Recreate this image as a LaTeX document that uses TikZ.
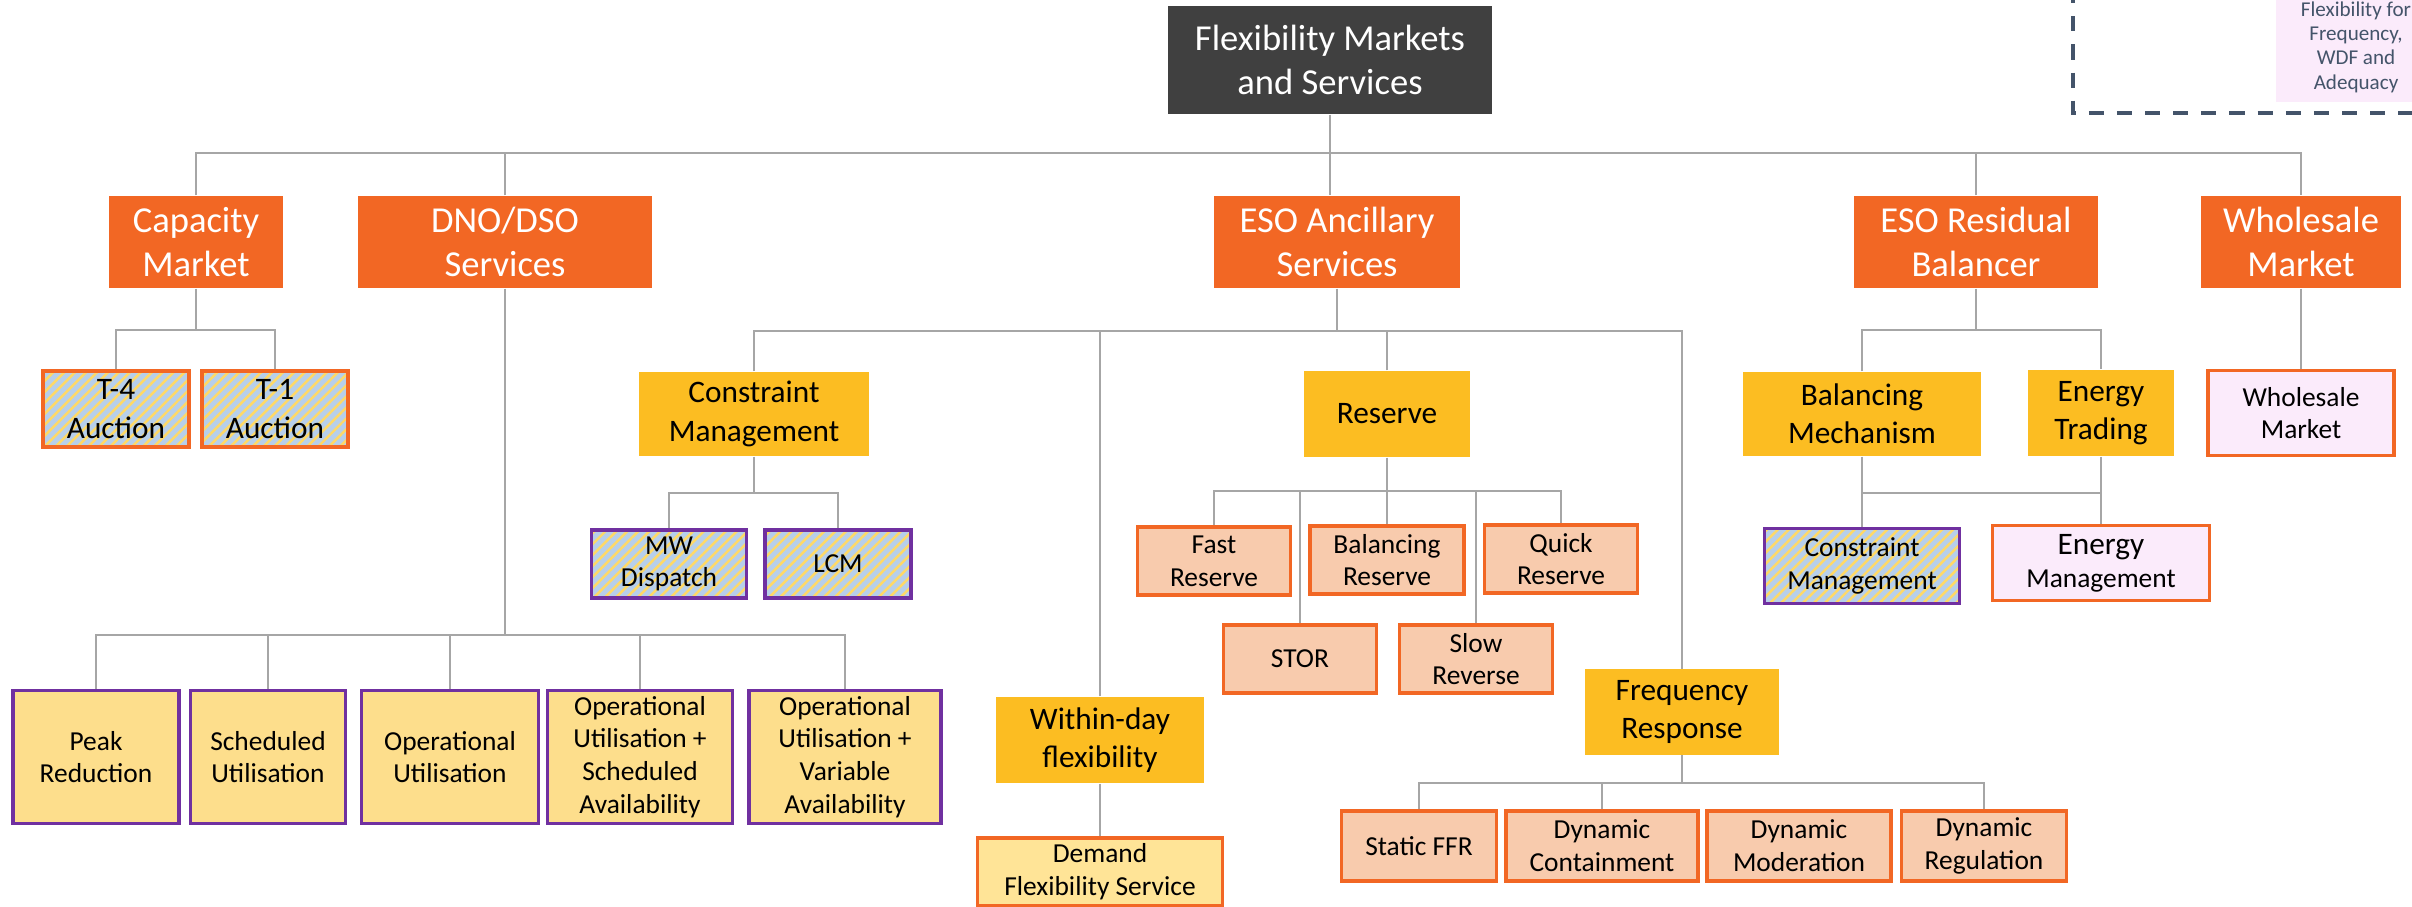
\documentclass[tikz,border=0pt]{standalone}
\usepackage{fontspec}
\setmainfont{Carlito}
\usetikzlibrary{patterns.meta}

\definecolor{rootgray}{HTML}{404040}
\definecolor{mktorange}{HTML}{F26724}
\definecolor{svcyellow}{HTML}{FCBD22}
\definecolor{paleyellow}{HTML}{FDDE8C}
\definecolor{lightyellow}{HTML}{FFE497}
\definecolor{salmon}{HTML}{F8CBAD}
\definecolor{palepink}{HTML}{FBEBFB}
\definecolor{hatchblue}{HTML}{B7CFEA}
\definecolor{hatchyellow}{HTML}{FFD966}
\definecolor{svcpurple}{HTML}{7030A0}
\definecolor{linegray}{HTML}{A6A6A6}
\definecolor{slate}{HTML}{44546A}

\newcommand{\sizeTop}{\fontsize{10.4pt}{12.6pt}\selectfont}
\newcommand{\sizeMid}{\fontsize{8.9pt}{10.9pt}\selectfont}
\newcommand{\sizeBox}{\fontsize{7.8pt}{9.3pt}\selectfont}
\newcommand{\sizeNote}{\fontsize{6pt}{6.9pt}\selectfont}

\tikzstyle{rootbox} = [rectangle, fill=rootgray, text=white, font=\sizeTop, align=center, inner sep=0pt]
\tikzstyle{market} = [rectangle, fill=mktorange, text=white, font=\sizeTop, align=center, inner sep=0pt, minimum height=0.92cm]
\tikzstyle{service} = [rectangle, fill=svcyellow, font=\sizeMid, align=center, inner sep=0pt]
\tikzstyle{hatchbox} = [rectangle, preaction={fill=hatchblue}, pattern={Lines[angle=45,distance=2.2pt,line width=0.7pt]}, pattern color=hatchyellow, line width=1pt, font=\sizeBox, align=center, inner sep=0pt]
\tikzstyle{dnobox} = [rectangle, fill=paleyellow, draw=svcpurple, line width=1pt, font=\sizeBox, align=center, inner sep=0pt, minimum height=1.33cm]
\tikzstyle{rsvbox} = [rectangle, fill=salmon, draw=mktorange, line width=1pt, font=\sizeBox, align=center, inner sep=0pt, minimum height=0.68cm]
\tikzstyle{pinkbox} = [rectangle, fill=palepink, draw=mktorange, line width=1pt, font=\sizeBox, align=center, inner sep=0pt]

\begin{document}
\begin{tikzpicture}[x=0.01cm, y=-0.01cm]
\tikzstyle{link}=[draw=linegray, line width=0.65pt]
\tikzstyle{dashbox}=[draw=slate, line width=1.1pt, dash pattern=on 4.3pt off 3.7pt]

\useasboundingbox (0,0) rectangle (2412,907);
\clip (0,0) rectangle (2412,907);

% note in the top right corner
\node[fill=palepink, text=slate, font=\sizeNote, align=center, inner sep=0pt, minimum width=1.60cm, minimum height=1.10cm] (flexnote) at (2356,47) {Flexibility for\\Frequency,\\WDF and\\Adequacy};
\draw[dashbox] (2073,-40) rectangle (2460,113);

% top of the tree
\node[rootbox, minimum width=3.23cm, minimum height=1.08cm] (root) at (1330,60) {Flexibility Markets\\and Services};

\node[market, minimum width=1.74cm] (cap) at (196,242) {Capacity\\Market};
\node[market, minimum width=2.93cm] (dno) at (505,242) {DNO/DSO\\Services};
\node[market, minimum width=2.46cm] (eso) at (1337,242) {ESO Ancillary\\Services};
\node[market, minimum width=2.43cm] (resid) at (1976,242) {ESO Residual\\Balancer};
\node[market, minimum width=2.00cm] (wsm) at (2301,242) {Wholesale\\Market};

% capacity market
\node[hatchbox, draw=mktorange, font=\sizeMid, minimum width=1.46cm, minimum height=0.76cm] (t4) at (116,409) {T-4\\Auction};
\node[hatchbox, draw=mktorange, font=\sizeMid, minimum width=1.46cm, minimum height=0.76cm] (t1) at (275,409) {T-1\\Auction};

% DNO/DSO services
\node[dnobox, minimum width=1.66cm] (peak) at (96,757) {Peak\\Reduction};
\node[dnobox, minimum width=1.55cm] (sched) at (268,757) {Scheduled\\Utilisation};
\node[dnobox, minimum width=1.77cm] (oper) at (450,757) {Operational\\Utilisation};
\node[dnobox, minimum width=1.85cm] (opsa) at (640,757) {Operational\\Utilisation +\\Scheduled\\Availability};
\node[dnobox, minimum width=1.92cm] (opva) at (845,757) {Operational\\Utilisation +\\Variable\\Availability};

% ESO ancillary services
\node[service, minimum width=2.30cm, minimum height=0.84cm] (cons) at (754,414) {Constraint\\Management};
\node[service, minimum width=1.66cm, minimum height=0.86cm] (rsv) at (1387,414) {Reserve};
\node[service, minimum width=2.08cm, minimum height=0.86cm] (wday) at (1100,740) {Within-day\\flexibility};
\node[service, minimum width=1.94cm, minimum height=0.85cm] (freq) at (1682,712) {Frequency\\Response};

\node[hatchbox, draw=svcpurple, minimum width=1.55cm, minimum height=0.68cm] (mwd) at (669,564) {MW\\Dispatch};
\node[hatchbox, draw=svcpurple, minimum width=1.46cm, minimum height=0.68cm] (lcm) at (838,564) {LCM};

\node[rsvbox, minimum width=1.53cm] (fast) at (1214,561) {Fast\\Reserve};
\node[rsvbox, minimum width=1.54cm] (bres) at (1387,560) {Balancing\\Reserve};
\node[rsvbox, minimum width=1.53cm] (qres) at (1561,559) {Quick\\Reserve};
\node[rsvbox, minimum width=1.53cm] (stor) at (1300,659) {STOR};
\node[rsvbox, minimum width=1.53cm] (slow) at (1476,659) {Slow\\Reverse};

\node[rsvbox, fill=lightyellow, minimum width=2.45cm] (dfs) at (1100,872) {Demand\\Flexibility Service};

\node[rsvbox, minimum width=1.55cm, minimum height=0.70cm] (sffr) at (1419,846) {Static FFR};
\node[rsvbox, minimum width=1.92cm, minimum height=0.70cm] (dcon) at (1602,846) {Dynamic\\Containment};
\node[rsvbox, minimum width=1.84cm, minimum height=0.70cm] (dmod) at (1799,846) {Dynamic\\Moderation};
\node[rsvbox, minimum width=1.65cm, minimum height=0.70cm] (dreg) at (1984,846) {Dynamic\\Regulation};

% ESO residual balancer
\node[service, minimum width=2.37cm, minimum height=0.84cm] (bm) at (1862,414) {Balancing\\Mechanism};
\node[service, minimum width=1.46cm, minimum height=0.86cm] (etr) at (2101,413) {Energy\\Trading};
\node[hatchbox, draw=svcpurple, minimum width=1.95cm, minimum height=0.75cm] (cm2) at (1862,566) {Constraint\\Management};
\node[pinkbox, minimum width=2.17cm, minimum height=0.75cm] (emgmt) at (2101,563) {{\sizeMid Energy}\\Management};

% wholesale
\node[pinkbox, minimum width=1.86cm, minimum height=0.85cm] (wsm2) at (2301,413) {Wholesale\\Market};

% bus coordinates
\coordinate (capbus) at (196,330);
\coordinate (dnobus) at (505,635);
\coordinate (esobus) at (1337,331);
\coordinate (consbus) at (754,493);
\coordinate (rsvbus) at (1387,491);
\coordinate (freqbus) at (1682,783);
\coordinate (residbus) at (1976,330);
\coordinate (bmbus) at (1862,493);

% connectors
\draw[link] (cap.north) -- ++(0,-42) -| (wsm.north);
\draw[link] (root.south) -- (root.south |- eso.north);
\draw[link] (dno.north) -- ++(0,-42);
\draw[link] (resid.north) -- ++(0,-42);

\draw[link] (cap.south) -- (capbus);
\draw[link] (t4.north) |- (capbus) -| (t1.north);

\draw[link] (dno.south) -- (dnobus);
\draw[link] (peak.north) |- (dnobus) -| (opva.north);
\foreach \n in {sched,oper,opsa}
  \draw[link] (\n.north) -- (\n.north |- dnobus);

\draw[link] (eso.south) -- (esobus);
\draw[link] (cons.north) |- (esobus) -| (freq.north);
\draw[link] (wday.north) -- (wday.north |- esobus);
\draw[link] (rsv.north) -- (rsv.north |- esobus);

\draw[link] (cons.south) -- (consbus);
\draw[link] (mwd.north) |- (consbus) -| (lcm.north);

\draw[link] (rsv.south) -- (rsvbus);
\draw[link] (fast.north) |- (rsvbus) -| (qres.north);
\foreach \n in {stor,bres,slow}
  \draw[link] (\n.north) -- (\n.north |- rsvbus);

\draw[link] (wday.south) -- (dfs.north);

\draw[link] (freq.south) -- (freqbus);
\draw[link] (sffr.north) |- (freqbus) -| (dreg.north);
\draw[link] (dcon.north) -- (dcon.north |- freqbus);

\draw[link] (resid.south) -- (residbus);
\draw[link] (bm.north) |- (residbus) -| (etr.north);
\draw[link] (bm.south) -- (cm2.north);
\draw[link] (etr.south) -- (emgmt.north);
\draw[link] (bmbus) -- (bmbus -| etr.south);

\draw[link] (wsm.south) -- (wsm2.north);

\end{tikzpicture}
\end{document}
